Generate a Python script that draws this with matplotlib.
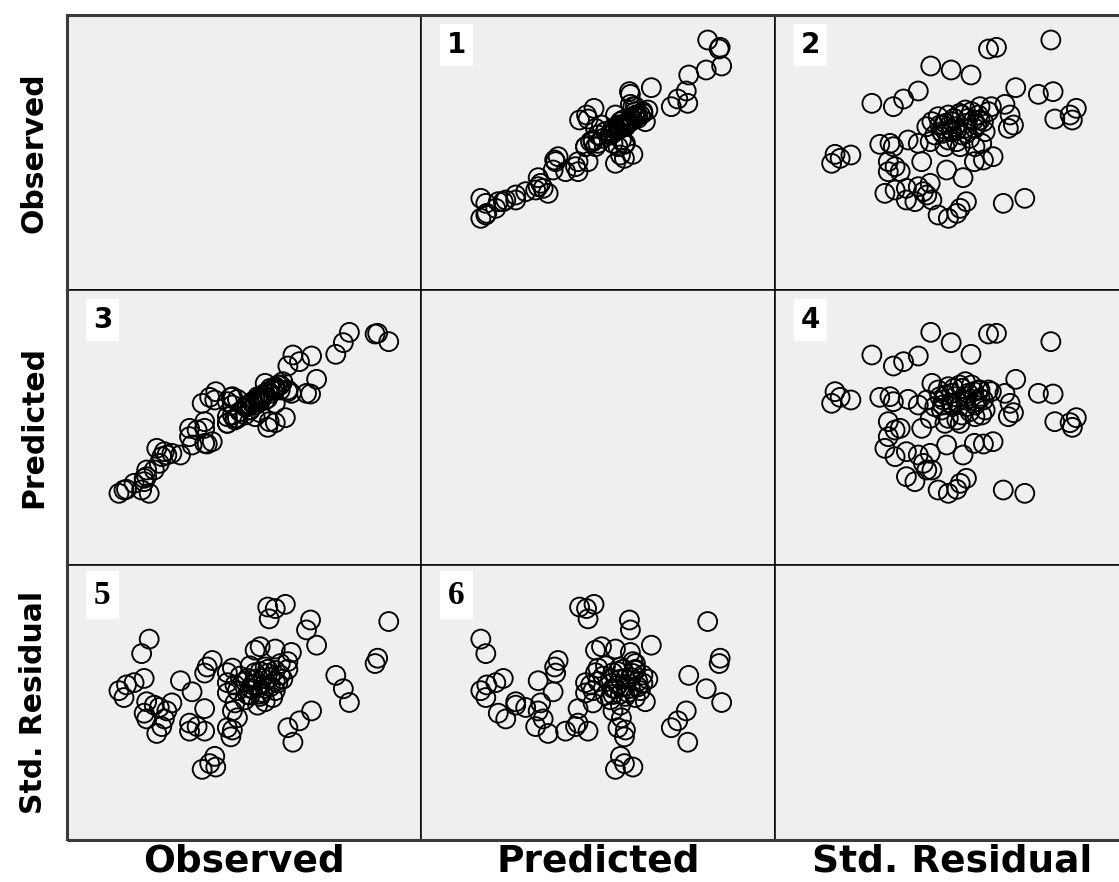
import matplotlib
matplotlib.use("Agg")
import matplotlib.pyplot as plt
from matplotlib.patches import Rectangle

# valores (casos del modelo)
observed = [62.5, 59.8, 60.3, 54.7, 53.5, 52.0, 43.5, 42.5, 44.8, 47.2,
            48.2, 46.2, 47.0, 42.0, 40.0, 38.8, 38.5, 40.0, 37.0, 36.0,
            43.2, 42.5, 42.5, 28.2, 28.0, 25.5, 27.0, 31.2, 31.5, 30.5,
            32.5, 31.5, 26.0, 24.5, 23.0, 23.0, 26.0, 23.5, 21.2, 26.0,
            26.5, 27.5, 16.5, 18.0, 18.5, 19.5, 16.0, 14.5, 10.0, 9.0,
            10.5, 14.0, 12.0, 13.5, 15.0, 38.0, 39.5, 37.0, 40.0, 38.0,
            35.5, 40.0, 37.5, 41.0, 36.0, 38.5, 35.0, 41.0, 34.0, 35.0,
            32.5, 32.0, 34.0, 33.0, 36.5, 32.0, 30.5, 30.5, 30.5, 31.5,
            35.0, 34.5, 37.0, 40.0, 14.5, 14.0, 17.0, 17.5, 39.0, 37.5,
            36.0, 38.5, 40.5, 35.5, 37.0, 39.0, 34.5, 36.5, 38.0, 41.5]

predicted = [54.5, 56.8, 57.0, 57.3, 54.2, 50.7, 50.5, 47.2, 48.5, 50.2,
             43.2, 39.0, 38.8, 31.7, 30.2, 30.5, 28.8, 36.0, 33.2, 32.0,
             39.0, 39.5, 40.0, 39.5, 37.0, 36.0, 37.8, 37.8, 38.0, 36.5,
             37.2, 35.5, 30.5, 28.0, 26.0, 28.5, 28.5, 23.5, 20.5, 24.0,
             23.8, 24.5, 22.5, 21.5, 20.5, 21.0, 16.0, 16.0, 10.0, 9.0,
             10.2, 13.5, 12.0, 10.0, 9.0, 42.0, 40.0, 37.0, 41.0, 39.0,
             36.5, 40.5, 38.0, 41.5, 35.5, 37.5, 34.0, 40.0, 35.0, 34.0,
             31.5, 31.0, 32.5, 33.5, 37.0, 31.5, 30.0, 30.0, 32.0, 32.5,
             35.5, 35.0, 38.0, 40.0, 14.0, 12.5, 18.0, 20.0, 40.5, 38.5,
             37.0, 39.5, 41.5, 36.0, 36.5, 39.0, 35.5, 38.0, 37.0, 42.5]

std_residual = [1.81, 0.71, 0.85, -0.31, 0.05, 0.40, -1.35, -0.97, -0.79, -0.53,
                1.19, 1.59, 1.85, 2.26, 2.15, 1.88, 2.19, 1.09, 1.15, 1.06,
                1.00, 0.76, 0.56, -2.00, -1.72, -2.06, -1.91, -1.21, -1.03, -0.97,
                -0.71, -0.53, -1.06, -0.94, -1.06, -0.85, -0.47, -0.03, 0.26, 0.46,
                0.62, 0.79, -1.12, -0.74, -0.53, -0.32, -0.38, -0.29, -0.18, 0.00,
                0.15, 0.32, 0.21, 0.97, 1.35, -0.29, -0.18, -0.09, 0.00, 0.06,
                0.15, 0.24, 0.32, 0.41, 0.47, 0.56, 0.65, 0.71, -0.24, -0.12,
                0.00, 0.15, 0.24, 0.38, -0.38, -0.32, -0.06, 0.21, 0.47, 0.59,
                0.06, 0.32, -0.15, 0.53, -0.74, -0.59, -0.44, -0.94, 0.10, -0.05,
                0.30, 0.45, 0.20, 0.05, 0.50, 0.35, -0.10, 0.12, 0.62, 0.30]

names = ["Observed", "Predicted", "Std. Residual"]
data = [observed, predicted, std_residual]

# limites de cada variable como eje x y como eje y
xlims = [(-1.3, 68.9), (-3.0, 68.0), (-3.06, 3.19)]
ylims = [(-12.5, 70.0), (-12.5, 70.0), (-3.91, 3.29)]

W, H = 1119, 882
fig = plt.figure(figsize=(W / 100, H / 100), dpi=100)

col_x = [67, 421, 775]
row_y = [15, 290, 565]
pw, ph = 354, 275

n = 1
for i in range(3):
    for j in range(3):
        rect = [col_x[j] / W, 1 - (row_y[i] + ph) / H, pw / W, ph / H]
        ax = fig.add_axes(rect)
        ax.set_facecolor("#efefef")
        ax.set_xticks([])
        ax.set_yticks([])
        for s in ax.spines.values():
            s.set_linewidth(1.1)
            s.set_color("black")
        ax.set_xlim(xlims[j])
        ax.set_ylim(ylims[i])
        if i == j:
            continue
        ax.scatter(data[j], data[i], s=185, facecolors="none",
                   edgecolors="black", linewidths=1.35)
        if n >= 5:
            fam, fs = "Liberation Serif", 24
        else:
            fam, fs = "DejaVu Sans", 20
        ax.text(0.1, 0.89, str(n), transform=ax.transAxes, ha="center",
                va="center", fontsize=fs, fontweight="bold", family=fam,
                bbox=dict(boxstyle="square,pad=0.25", fc="white", ec="none"))
        n += 1

# marco exterior
fig.patches.append(Rectangle((67 / W, 1 - 840 / H), 1070 / W, 825 / H,
                             transform=fig.transFigure, fill=False,
                             lw=2.2, ec="#3a3a3a"))

for k, name in enumerate(names):
    fig.text((col_x[k] + pw / 2) / W, 1 - 862 / H, name, ha="center",
             va="center", fontsize=27, fontweight="bold")
    fig.text(34 / W, 1 - (row_y[k] + ph / 2) / H, name, ha="center",
             va="center", fontsize=21.5, fontweight="bold", rotation=90)

fig.savefig("out.png", dpi=100)
